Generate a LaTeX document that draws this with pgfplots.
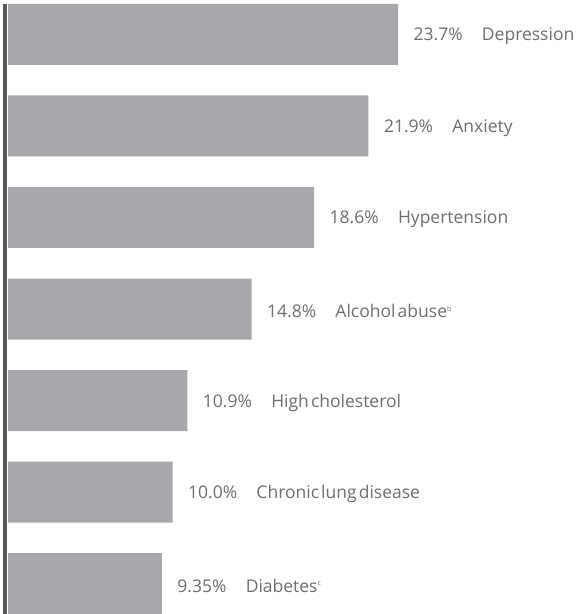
\documentclass[border=0pt]{standalone}
\usepackage{fontspec}
\setmainfont{Open Sans}
\usepackage{pgfplots}
\pgfplotsset{compat=1.18}
\definecolor{barg}{HTML}{A7A8AB}
\definecolor{axg}{HTML}{58585A}
\definecolor{txt}{HTML}{6D6E71}
\begin{document}
\begin{tikzpicture}
\begin{axis}[
  scale only axis, width=574.5pt, height=610pt,
  xbar, bar width=61pt, bar shift=0pt,
  xmin=-0.152, xmax=34.75,
  ymin=-0.333, ymax=6.333, y dir=reverse,
  axis x line=none, axis y line*=left,
  y axis line style={-, draw=axg, line width=4pt},
  ytick=\empty, xtick=\empty,
  clip=false,
  point meta=explicit symbolic,
  nodes near coords,
  every node near coord/.append style={anchor=west, xshift=12pt, yshift=-2pt, font=\fontsize{17.5}{20}\selectfont, text=txt},
]
\addplot[fill=barg, draw=none] coordinates {
 (23.7,0) [23.7\%\hspace{1.1em}Depression]
 (21.9,1) [21.9\%\hspace{1.1em}Anxiety]
 (18.6,2) [18.6\%\hspace{1.1em}Hypertension]
 (14.8,3) [14.8\%\hspace{1.1em}Alcohol\hspace{0.12em}abuse\textsuperscript{\scriptsize b}]
 (10.9,4) [10.9\%\hspace{1.1em}High\hspace{0.12em}cholesterol]
 (10.0,5) [10.0\%\hspace{1.1em}Chronic\hspace{0.12em}lung\hspace{0.12em}disease]
 (9.35,6) [9.35\%\hspace{1.1em}Diabetes\textsuperscript{\scriptsize c}]
};
\end{axis}
\pgfresetboundingbox
\useasboundingbox (-5.5pt,0) rectangle (574.5pt,614pt);
\end{tikzpicture}
\end{document}
